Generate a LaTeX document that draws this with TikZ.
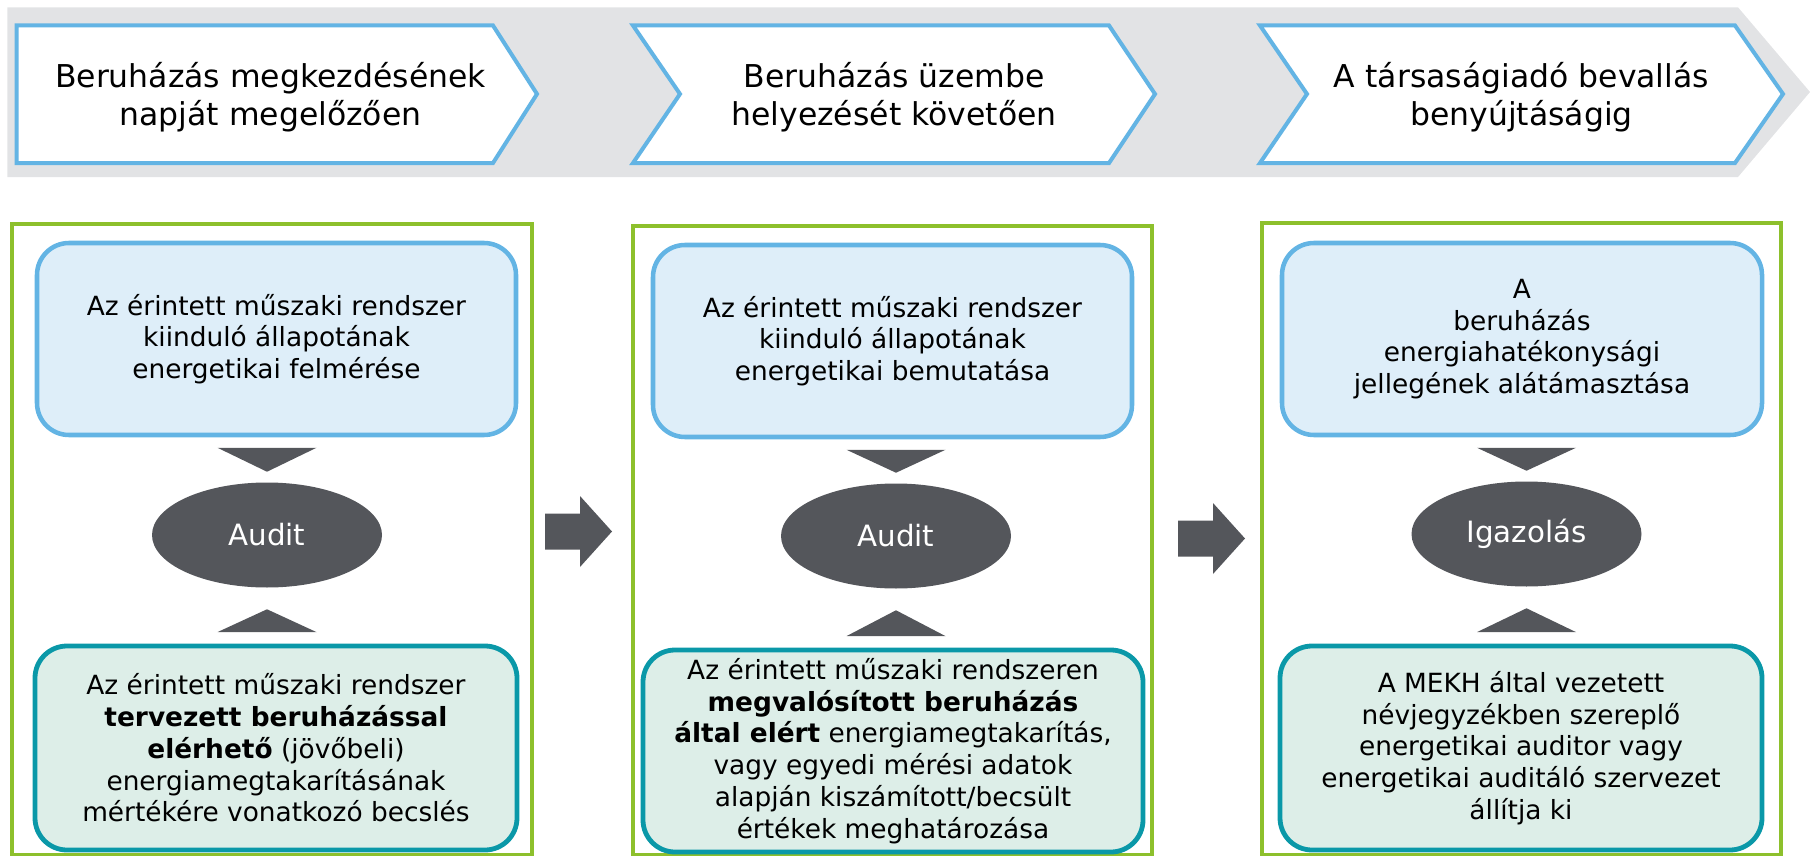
\documentclass[tikz,border=0pt]{standalone}
\usepackage{fontspec}
\setmainfont{DejaVu Sans}
\usetikzlibrary{shapes.geometric,calc}
\definecolor{bandgray}{HTML}{E2E3E5}
\definecolor{chevblue}{HTML}{63B4E4}
\definecolor{boxfill}{HTML}{DEEEF9}
\definecolor{tealc}{HTML}{0A98A8}
\definecolor{tealfill}{HTML}{DDEEE8}
\definecolor{greenc}{HTML}{8DC02C}
\definecolor{darkg}{HTML}{54565B}
\begin{document}
\begin{tikzpicture}[x=0.75pt,y=-0.75pt,
  chev/.style={draw=chevblue,line width=3pt,fill=white,line join=miter},
  chevtext/.style={font=\fontsize{23.6}{28.7}\selectfont,align=center,inner sep=0pt},
  bluebox/.style={draw=chevblue,fill=boxfill,line width=3.4pt,rounded corners=24pt,align=center,inner sep=0pt,
     minimum height=144pt,font=\fontsize{19.8}{23.8}\selectfont},
  tealbox/.style={draw=tealc,fill=tealfill,line width=3.6pt,rounded corners=24pt,align=center,inner sep=0pt,
     font=\fontsize{19.8}{23.8}\selectfont},
  oval/.style={ellipse,fill=darkg,text=white,minimum width=172.5pt,minimum height=78.75pt,inner sep=0pt,
     font=\fontsize{22}{26}\selectfont},
  frame/.style={draw=greenc,line width=2.4pt},
  tri/.style={fill=darkg}
]
\useasboundingbox (0,0) rectangle (1810,856);

% top band
\fill[bandgray] (7.3,7.3) -- (1738,7.3) -- (1810,92) -- (1738,177) -- (7.3,177) -- cycle;

% chevrons
\draw[chev] (16.7,25.5) -- (493,25.5) -- (537,94) -- (493,163) -- (16.7,163) -- cycle;
\draw[chev] (633,25.5) -- (1109,25.5) -- (1155,94) -- (1109,163) -- (633,163) -- (680,94) -- cycle;
\draw[chev] (1260,25.5) -- (1735,25.5) -- (1783,94) -- (1735,163) -- (1260,163) -- (1307,94) -- cycle;
\node[chevtext] (c1) at (270.5,97) {Beruházás megkezdésének\\napját megelőzően};
\node[chevtext] (c2) at (894,97) {Beruházás üzembe\\helyezését követően};
\node[chevtext] (c3) at (1521.5,97) {A társaságiadó bevallás\\benyújtáságig};

% green frames
\draw[frame] (12,224) rectangle (532,855);
\draw[frame] (633,226) rectangle (1152,855);
\draw[frame] (1262,223) rectangle (1781,855);

% column 1
\node[bluebox,minimum width=359.25pt] (b1) at (276.5,339)
  {Az érintett műszaki rendszer\\kiinduló állapotának\\energetikai felmérése};
\node[oval] (e1) at (267,535) {Audit};
\node[tealbox,minimum width=361.5pt,minimum height=153pt] (t1) at (276,748)
  {Az érintett műszaki rendszer\\\textbf{tervezett beruházással}\\\textbf{elérhető} (jövőbeli)\\energiamegtakarításának\\mértékére vonatkozó becslés};

% column 2
\node[bluebox,minimum width=359.25pt] (b2) at (892.5,341)
  {Az érintett műszaki rendszer\\kiinduló állapotának\\energetikai bemutatása};
\node[oval] (e2) at (896,536) {Audit};
\node[tealbox,minimum width=375pt,minimum height=151.5pt] (t2) at (893,751)
  {Az érintett műszaki rendszeren\\\textbf{megvalósított beruházás}\\\textbf{által elért} energiamegtakarítás,\\vagy egyedi mérési adatok\\alapján kiszámított/becsült\\értékek meghatározása};

% column 3
\node[bluebox,minimum width=360pt] (b3) at (1522,339)
  {A\\beruházás\\energiahatékonysági\\jellegének alátámasztása};
\node[oval] (e3) at (1526.5,534) {Igazolás};
\node[tealbox,minimum width=361.5pt,minimum height=153pt] (t3) at (1521,748)
  {A MEKH által vezetett\\névjegyzékben szereplő\\energetikai auditor vagy\\energetikai auditáló szervezet\\állítja ki};

% triangles (connectors box -> oval)
\foreach \b/\e/\t in {b1/e1/t1,b2/e2/t2,b3/e3/t3}{
  \fill[tri] ($(\b.south -| \e)+(-49.5,10.5)$) -- ++(99,0) -- ($(\e.north)+(0,-10.5)$) -- cycle;
  \fill[tri] ($(\t.north -| \e)+(-49.5,-11.5)$) -- ++(99,0) -- ($(\e.south)+(0,21.5)$) -- cycle;
}

% block arrows between columns
\coordinate (a1) at (545,531.5);
\coordinate (a2) at (1178,538.5);
\foreach \a in {a1,a2}{
  \fill[darkg] (\a) ++(0,-18) -- ++(35,0) -- ++(0,-17.5) -- ++(32,35.5) -- ++(-32,35.5) -- ++(0,-17.5) -- ++(-35,0) -- cycle;
}
\end{tikzpicture}
\end{document}
